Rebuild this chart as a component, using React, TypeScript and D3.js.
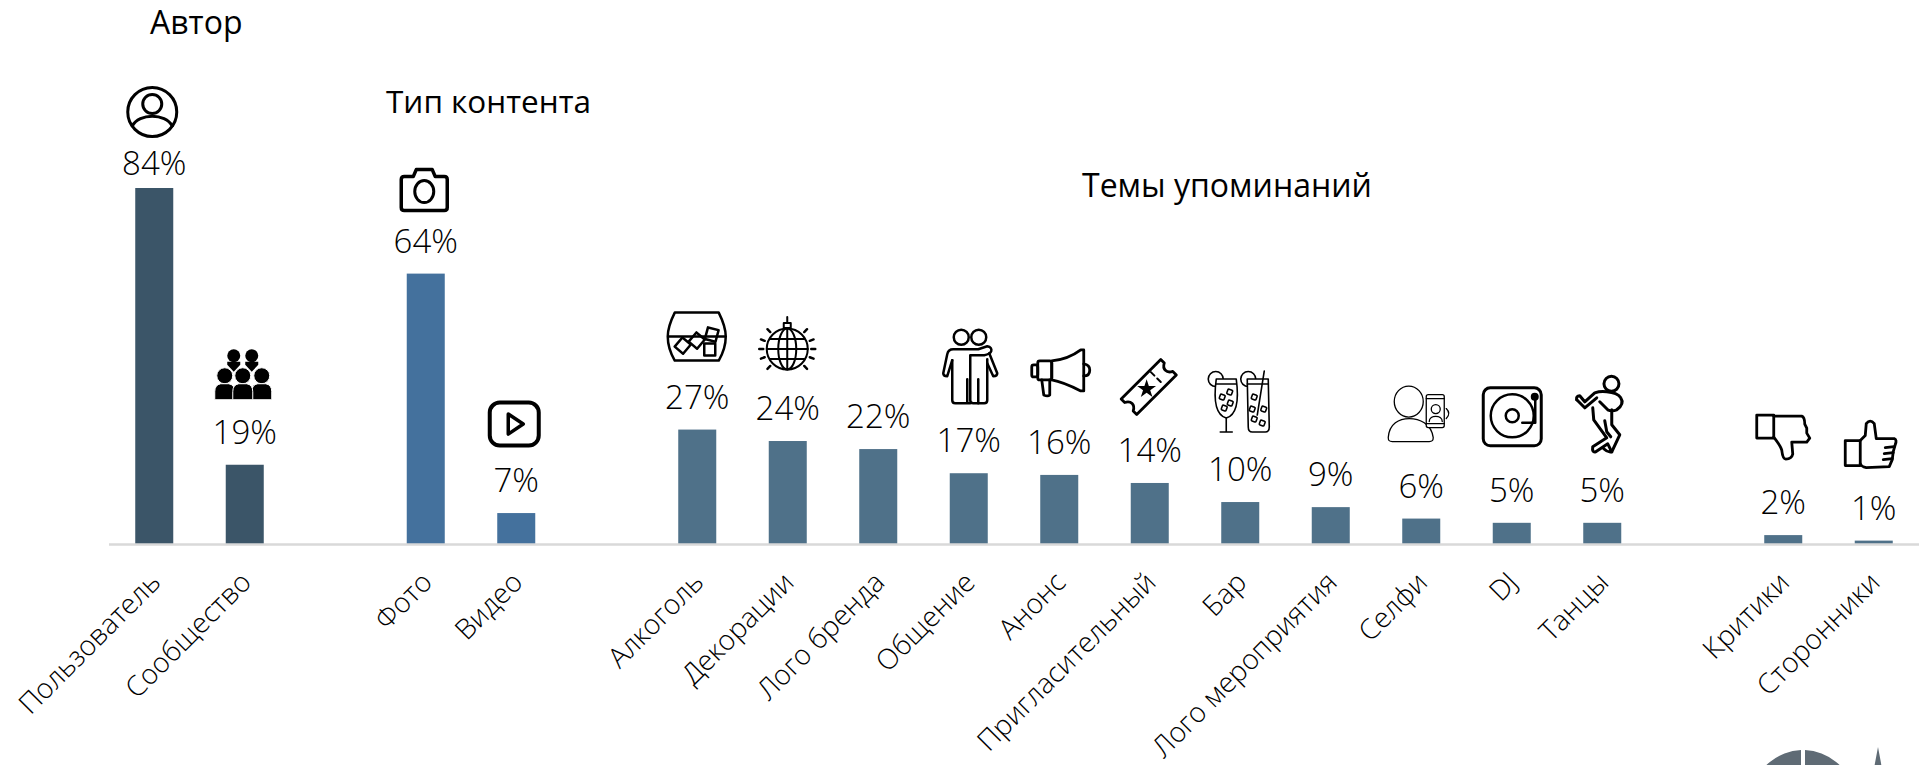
import React, { useEffect, useRef } from "react";
import * as d3 from "d3";

// Share of mentions, %
const authorNames = ["Пользователь", "Сообщество"];
const authorValues = [84, 18.7];
const contentNames = ["Фото", "Видео"];
const contentValues = [63.8, 7.3];
const topicNames = [
  "Алкоголь", "Декорации", "Лого бренда", "Общение", "Анонс", "Пригласительный",
  "Бар", "Лого мероприятия", "Селфи", "DJ", "Танцы",
];
const topicValues = [27, 24.3, 22.4, 16.7, 16.3, 14.4, 9.9, 8.7, 6, 5, 5];
const reactionNames = ["Критики", "Сторонники"];
const reactionValues = [2.1, 0.8];
const valueLabels = [
  "84%", "19%", "64%", "7%", "27%", "24%", "22%", "17%", "16%", "14%", "10%", "9%", "6%", "5%", "5%", "2%", "1%",
];

const width = 1929;
const height = 765;
const baseline = 544;
const lightFont = "'Open Sans', 'Noto Sans', sans-serif";

const colorAuthor = "#3b5568";
const colorContent = "#44719d";
const colorTopic = "#4f7189";

const names = [...authorNames, ...contentNames, ...topicNames, ...reactionNames];
const values = [...authorValues, ...contentValues, ...topicValues, ...reactionValues];
const colors = [
  ...authorNames.map(() => colorAuthor),
  ...contentNames.map(() => colorContent),
  ...topicNames.map(() => colorTopic),
  ...reactionNames.map(() => colorTopic),
];

// empty bands separate the groups
const slots = [...authorNames, "gap1", ...contentNames, "gap2", ...topicNames, "gap3", ...reactionNames];

const x = d3.scaleBand<string>().domain(slots).range([109, 1919]).paddingInner(0.58).paddingOuter(0.29);
const y = d3.scaleLinear().domain([0, 84]).range([baseline, 188]);

const ink = { fill: "none", stroke: "#000", strokeLinecap: "round", strokeLinejoin: "round" } as const;

const UserIcon = () => (
  <g {...ink} strokeWidth={3}>
    <circle r={24.5} />
    <circle cy={-8} r={9.5} />
    <path d="M-20,14 C-13,1 13,1 20,14" />
  </g>
);

const GroupIcon = () => (
  <g fill="#000">
    <circle cx={-9.5} cy={-19} r={6.5} />
    <circle cx={8.5} cy={-19} r={6.5} />
    <path d="M-16,-13 L-3,-13 L-3,-10 L-9.5,-3 L-16,-10 Z M2,-13 L15,-13 L15,-10 L8.5,-3 L2,-10 Z" />
    {[-18.5, 18.5, -0.5].map((cx) => (
      <g key={cx} stroke="#fff" strokeWidth={1}>
        <circle cx={cx} cy={1} r={8} />
        <path d={`M${cx - 10},25 L${cx - 10},17 Q${cx - 10},10 ${cx - 4},9 L${cx + 4},9 Q${cx + 10},10 ${cx + 10},17 L${cx + 10},25 Z`} />
      </g>
    ))}
  </g>
);

const CameraIcon = () => (
  <g {...ink} strokeWidth={3.5}>
    <path d="M-20,-13 L-11,-13 L-8,-20 L8,-20 L11,-13 L20,-13 Q23,-13 23,-10 L23,18 Q23,21 20,21 L-20,21 Q-23,21 -23,18 L-23,-10 Q-23,-13 -20,-13 Z" />
    <ellipse cy={2} rx={9.5} ry={11} strokeWidth={3} />
  </g>
);

const PlayIcon = () => (
  <g {...ink} strokeWidth={4}>
    <rect x={-24.5} y={-21.5} width={49} height={43} rx={10} />
    <path d="M-6,-10 L9,0 L-6,10 Z" strokeWidth={3.5} />
  </g>
);

const GlassIcon = () => (
  <g {...ink} strokeWidth={2.5}>
    <path d="M-22,-24 L22,-24 Q29,-10 29,0 Q29,12 22,24 L-22,24 Q-29,12 -29,0 Q-29,-10 -22,-24 Z" />
    <path d="M-28,0 L28,0" />
    <rect x={-19.5} y={3} width={11} height={12} transform="rotate(40 -14 9)" />
    <rect x={-5.5} y={-2} width={11} height={12} transform="rotate(40 0 4)" />
    <rect x={9.5} y={-8} width={11} height={12} transform="rotate(15 15 -2)" />
    <rect x={7.5} y={7} width={11} height={12} />
  </g>
);

const DiscoIcon = () => (
  <g transform="translate(0,5)" {...ink} strokeWidth={2}>
    <circle r={20.5} />
    <ellipse rx={9} ry={20.5} />
    <path d="M0,-20.5 L0,20.5 M-20.5,0 L20.5,0 M-17,-10 L17,-10 M-17,10 L17,10" />
    <rect x={-3.5} y={-26} width={7} height={5} />
    <path d="M0,-26 L0,-32" />
    {[-135, -45, 45, 135, 180, 0, -160, -20, 20, 160].map((a) => (
      <path key={a} d="M24,0 L28,0" transform={`rotate(${a})`} strokeWidth={2.5} />
    ))}
  </g>
);

const CoupleIcon = () => (
  <g {...ink} strokeWidth={2.5}>
    <circle cx={-9} cy={-30} r={7.5} />
    <circle cx={8.5} cy={-30} r={7.5} />
    <path d="M0,36 L-3,36 L-3,12 M-18,-7 L-18,33 Q-18,36 -15,36 L-4,36" />
    <path d="M-18,-7 L-23,9 Q-27,9 -27,6 L-23,-13 Q-22,-18 -17,-18 L8,-18 L17,-21 Q22,-20 21,-16 Q20,-13 14,-12 L0,-12 L0,33 Q0,36 3,36 L14,36 Q17,36 17,33 L17,-8" />
    <path d="M8,36 L8,12 M19,-14 L27,6 Q27,9 23,9 L17,-4" />
  </g>
);

const MegaphoneIcon = () => (
  <g {...ink} strokeWidth={2.8}>
    <path d="M-9,-12 C2,-13 12,-17 20,-23 L23,-23 L23,18 L20,18 C12,14 2,9 -9,7 Z" />
    <rect x={-23} y={-12} width={14} height={19} rx={2} />
    <rect x={-29} y={-8} width={6} height={12} rx={2} />
    <path d="M-19,7 L-17,22 Q-13,24 -11,22 L-11,7" />
    <path d="M23,-9 Q29,-8 29,-3 Q29,3 23,3" />
  </g>
);

const TicketIcon = () => (
  <g transform="rotate(-45)" {...ink} strokeWidth={2.8}>
    <path d="M-28,-11 L28,-11 L28,-6 C22,-3 22,3 28,6 L28,11 L-28,11 L-28,6 C-22,3 -22,-3 -28,-6 Z" />
    <path d="M12,-9 L12,9" strokeDasharray="5 4" strokeWidth={2} />
    <path
      d={d3.symbol(d3.symbolStar, 110)() ?? ""}
      transform="translate(-3,0) rotate(45)"
      fill="#000"
      stroke="none"
    />
  </g>
);

const DrinksIcon = () => (
  <g {...ink} strokeWidth={1.6}>
    <circle cx={-23.5} cy={-22} r={7.5} fill="#fff" />
    <path d="M-23,-22 L-3,-22 C0,0 -3,14 -13,17 C-23,14 -26,0 -23,-22 Z" fill="#fff" />
    <path d="M-23,-17 L-3,-17 M-13,17 L-13,31 M-19,31 L-7,31" />
    {[[-9.5, -9], [-17, -4], [-9, 2], [-15, 7]].map(([a, b]) => (
      <rect key={`l${a}`} x={a - 2.5} y={b - 2.5} width={5} height={5} rx={1} transform={`rotate(20 ${a} ${b})`} />
    ))}
    <circle cx={9} cy={-22} r={7.5} fill="#fff" />
    <path d="M8,-22 L29,-22 L30,26 Q30,31 26,31 L13,31 Q9,31 9,26 Z" fill="#fff" />
    <path d="M8,-17 L29,-17 M25,-30 L18,14" />
    {[[15, -4], [13, 8], [24.5, 8], [15, 18], [23, 22]].map(([a, b]) => (
      <rect key={`r${a}${b}`} x={a - 2.5} y={b - 2.5} width={5} height={5} rx={1} transform={`rotate(20 ${a} ${b})`} />
    ))}
  </g>
);

const SelfieIcon = () => (
  <g {...ink} strokeWidth={1.3}>
    <ellipse cx={-10.5} cy={-12} rx={14.5} ry={15.5} />
    <path d="M-31,24 C-30,10 -20,5 -10,5 C0,5 12,10 14,24 C14,28 12,28 10,28 L-27,28 C-31,28 -31,26 -31,24 Z" fill="#fff" />
    <rect x={7} y={-19} width={18} height={33} rx={2} fill="#fff" />
    <path d="M7,-15 L25,-15 M7,10 L25,10" />
    <circle cx={16.5} cy={-4.5} r={4.5} />
    <path d="M10,8 C10,1 23,1 23,8" />
    <path d="M27,-5 Q32,0 27,5" />
  </g>
);

const TurntableIcon = () => (
  <g {...ink} strokeWidth={3}>
    <rect x={-29} y={-29} width={58} height={58} rx={7} />
    <circle cy={-1} r={21.5} strokeWidth={2.5} />
    <circle cy={-1} r={6.5} strokeWidth={2.5} />
    <path d="M23,-20 L23,6 L10,6" strokeWidth={2.5} />
    <circle cx={22.5} cy={-20} r={2.5} fill="#000" />
  </g>
);

const DancerIcon = () => (
  <g {...ink} strokeWidth={3}>
    <circle cx={11.7} cy={-30} r={7.5} />
    <path d="M-23,-14 Q-24,-18 -20,-18 L-15,-12 L-5,-21 Q1,-23 7,-22 Q18,-21 21,-16 Q25,-10 17,-4 Q12,-2 8,-4 L0,-12" />
    <path d="M-23,-14 L-15,-6 L-3,-16 M-7,-6 L-6,6 L7,24 L-7,33 Q-8,39 -4,38 L8,30 L12,38 Q8,39 4,35" />
    <path d="M12,-4 L12,11 L20,21 L12,38 M5,7 L7,18 L11,23" />
  </g>
);

const ThumbDownIcon = () => (
  <g {...ink} strokeWidth={2.8}>
    <rect x={-26} y={-22} width={17} height={23} />
    <path d="M-9,-21 L19,-21 Q22,-20 22,-13 L24,-9 L24,-4 L27,1 L24,5 L9,5 L10,17 Q9,22 3,22 Q0,22 -1,13 Q-2,9 -9,0" />
  </g>
);

const ThumbUpIcon = () => (
  <g {...ink} strokeWidth={2.8}>
    <rect x={-25} y={-3} width={15} height={25} />
    <path d="M-10,-3 L-5,-8 L-4,-20 Q0,-25 4,-20 L6,-5 L24,-5 Q27,-4 25,1 L23,8 L22,16 L19,23 L-4,24 Q-9,23 -10,20" />
    <path d="M15,4 L24,3 M14,10 L23,9 M13,16 L22,15" />
  </g>
);

// which icon sits over which bar: name, shift from the bar centre, height of its centre above the bar top
const iconPlacement: [string, React.FC, number, number][] = [
  ["Пользователь", UserIcon, -2, 76],
  ["Сообщество", GroupIcon, -1.5, 90],
  ["Фото", CameraIcon, -1.5, 84],
  ["Видео", PlayIcon, -2, 89],
  ["Алкоголь", GlassIcon, -0.5, 93],
  ["Декорации", DiscoIcon, -0.5, 97],
  ["Общение", CoupleIcon, 1.5, 106],
  ["Анонс", MegaphoneIcon, 1.5, 102],
  ["Пригласительный", TicketIcon, -1, 96],
  ["Бар", DrinksIcon, -1, 101],
  ["Селфи", SelfieIcon, -2, 105],
  ["DJ", TurntableIcon, 0.5, 106],
  ["Танцы", DancerIcon, -2.5, 109],
  ["Критики", ThumbDownIcon, -0.5, 98],
  ["Сторонники", ThumbUpIcon, -3.5, 97],
];

export default function App() {
  const axisRef = useRef<SVGGElement>(null);

  useEffect(() => {
    const axis = d3.select(axisRef.current);
    axis
      .call(d3.axisBottom(x).tickValues(names).tickSize(0))
      .call((g) => g.select(".domain").remove())
      .call((g) =>
        g
          .selectAll("text")
          .attr("x", 0)
          .attr("y", 0)
          .attr("dy", 0)
          .attr("text-anchor", "end")
          .attr("transform", "translate(8,40) rotate(-45)")
          .style("font-family", lightFont)
          .style("font-weight", 300)
          .style("font-size", "28px")
          .attr("fill", "#000")
      );
  }, []);

  const band = x.bandwidth();

  return (
    <svg
      width={width}
      height={height}
      viewBox={`0 0 ${width} ${height}`}
      style={{ position: "absolute", left: 0, top: 0, display: "block", background: "#fff" }}
    >
      <text x={150} y={34} fontFamily={lightFont} fontSize={32} fill="#000">Автор</text>
      <text x={386} y={113} fontFamily={lightFont} fontSize={31.5} fill="#000">Тип контента</text>
      <text x={1082} y={197} fontFamily={lightFont} fontSize={32} fill="#000">Темы упоминаний</text>

      {names.map((name, i) => (
        <rect key={name} x={x(name)} y={y(values[i])} width={band} height={baseline - y(values[i])} fill={colors[i]} />
      ))}

      <line x1={x.range()[0]} x2={x.range()[1]} y1={baseline + 0.5} y2={baseline + 0.5} stroke="#d9d9d9" strokeWidth={2.5} />

      {names.map((name, i) => (
        <text
          key={name}
          x={(x(name) ?? 0) + band / 2}
          y={y(values[i]) - (i === 0 ? 13 : 21)}
          textAnchor="middle"
          fontFamily={lightFont}
          fontWeight={300}
          fontSize={33}
          fill="#000"
        >
          {valueLabels[i]}
        </text>
      ))}

      {iconPlacement.map(([name, Icon, dx, above]) => (
        <g
          key={name}
          transform={`translate(${(x(name) ?? 0) + band / 2 + dx},${y(values[names.indexOf(name)]) - above})`}
        >
          <Icon />
        </g>
      ))}

      <g ref={axisRef} transform={`translate(0,${baseline})`} />

      {/* corner of the logo, cut off by the page edge */}
      <g fill="#5f6b75">
        <path d="M1801,750 A53,53 0 0 0 1752,790 L1772,790 A33,33 0 0 1 1801,772 Z" />
        <path d="M1805,750 A53,53 0 0 1 1854,790 L1834,790 A33,33 0 0 0 1805,772 Z" />
        <path d="M1878,747 L1870,790 L1886,790 Z" />
      </g>
    </svg>
  );
}
